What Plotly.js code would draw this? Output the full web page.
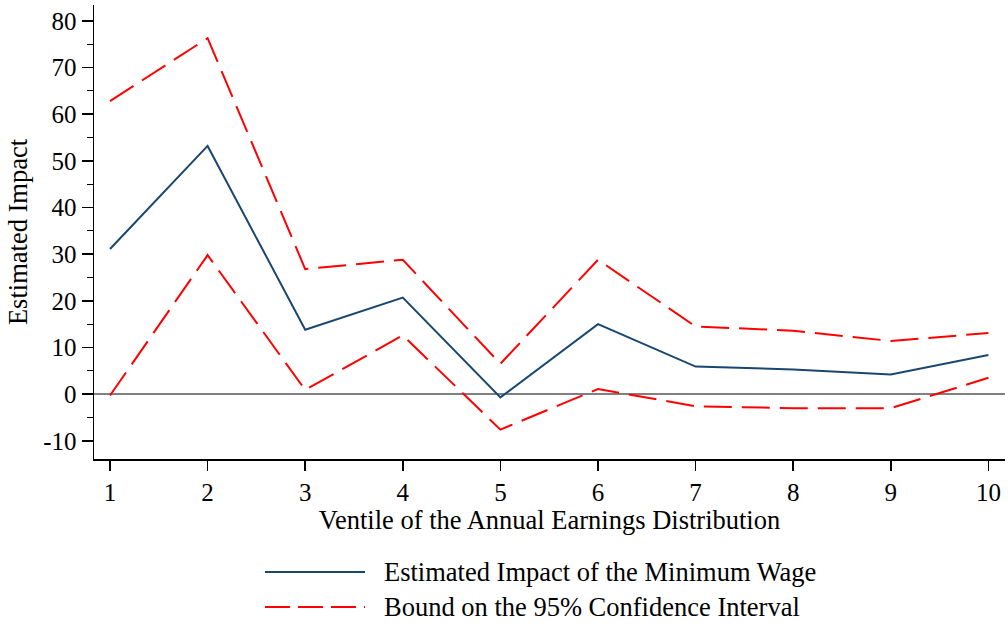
<!DOCTYPE html>
<html><head><meta charset="utf-8">
<script src="https://cdn.plot.ly/plotly-3.0.1.min.js"></script>
<style>html,body{margin:0;padding:0;background:#fff}#chart{width:1008px;height:629px}</style>
</head><body><div id="chart"></div>
<script>
const ventiles = [1,2,3,4,5,6,7,8,9,10];
const estimate = [31.1, 53.2, 13.8, 20.7, -0.7, 15.0, 5.9, 5.3, 4.2, 8.4];
const upperBound = [62.8, 76.3, 26.8, 28.8, 6.5, 28.8, 14.5, 13.6, 11.4, 13.1];
const lowerBound = [-0.3, 29.8, 0.9, 12.6, -7.6, 1.1, -2.6, -3.0, -3.0, 3.5];
const xTickVals = [1,2,3,4,5,6,7,8,9,10];
const yTickVals = [-10,0,10,20,30,40,50,60,70,80];
const legendLabels = ['Estimated Impact of the Minimum Wage','Bound on the 95% Confidence Interval'];

const blue = '#1a476f', red = '#ff0000';
const dash = '28px,10px';
const F = 'Liberation Serif, Times New Roman, serif';
const TS = 26.5;

const traces = [
  {x: ventiles, y: upperBound, mode:'lines', line:{color:red, width:2, dash:dash}, showlegend:false, hoverinfo:'skip'},
  {x: ventiles, y: lowerBound, mode:'lines', line:{color:red, width:2, dash:dash}, showlegend:false, hoverinfo:'skip'},
  {x: ventiles, y: estimate, mode:'lines', line:{color:blue, width:2}, showlegend:false, hoverinfo:'skip'}
];

const layout = {
  width:1008, height:629,
  margin:{l:94, r:3, t:5, b:170},
  paper_bgcolor:'#fff', plot_bgcolor:'#fff',
  font:{family:F, size:25, color:'#000'},
  showlegend:false,
  xaxis:{
    range:[0.836, 10.17], tickvals:xTickVals, ticktext:xTickVals.map(String),
    showgrid:false, zeroline:false, showline:true, linecolor:'#000', linewidth:1.5,
    ticks:'outside', ticklen:10, tickwidth:1.5, tickcolor:'#000',
    tickfont:{family:F, size:25},
    title:{text:'Ventile of the Annual Earnings Distribution', font:{family:F, size:TS}, standoff:0}
  },
  yaxis:{
    range:[-13.9, 83.4], tickvals:yTickVals, ticktext:yTickVals.map(String),
    showgrid:false, zeroline:true, zerolinecolor:'#808080', zerolinewidth:2,
    showline:true, linecolor:'#000', linewidth:1.5,
    ticks:'outside', ticklen:11, tickwidth:1.5, tickcolor:'#000',
    minor:{dtick:5, tick0:0, ticks:'outside', ticklen:6, tickwidth:1.2, tickcolor:'#000', showgrid:false},
    tickfont:{family:F, size:25},
    title:{text:'Estimated Impact', font:{family:F, size:TS}, standoff:8}
  },
  shapes:[
    {type:'line', xref:'paper', yref:'paper', x0:0.1877, x1:0.2975, y0:-0.249, y1:-0.249, line:{color:blue, width:2}},
    {type:'line', xref:'paper', yref:'paper', x0:0.1877, x1:0.2975, y0:-0.326, y1:-0.326, line:{color:red, width:2, dash:'25px,8px'}}
  ],
  annotations:[
    {xref:'paper', yref:'paper', x:0.316, y:-0.249, xanchor:'left', yanchor:'middle', text:legendLabels[0], showarrow:false, font:{family:F, size:TS, color:'#000'}},
    {xref:'paper', yref:'paper', x:0.316, y:-0.326, xanchor:'left', yanchor:'middle', text:legendLabels[1], showarrow:false, font:{family:F, size:TS, color:'#000'}}
  ]
};
Plotly.newPlot('chart', traces, layout, {displayModeBar:false, staticPlot:true});
</script></body></html>
